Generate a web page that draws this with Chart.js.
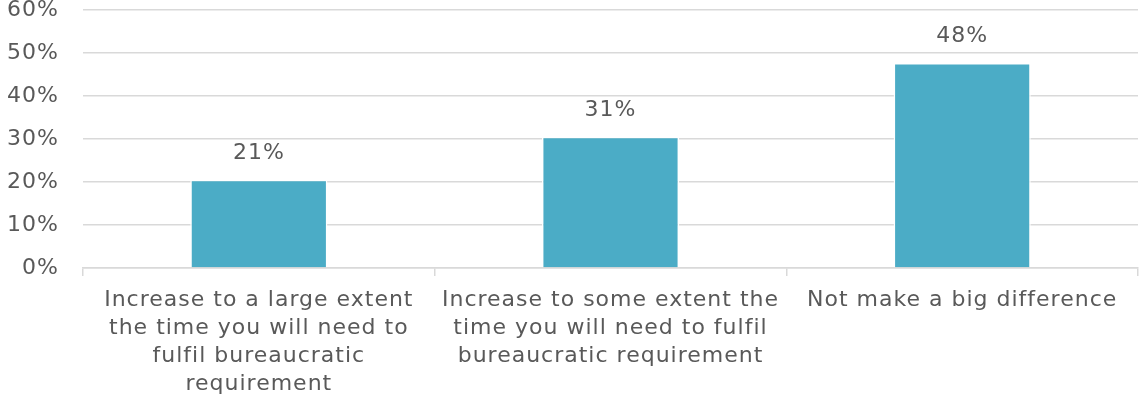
<!DOCTYPE html>
<html>
<head>
<meta charset="utf-8">
<script src="https://cdn.jsdelivr.net/npm/chart.js@4.4.1/dist/chart.umd.min.js"></script>
<style>
  body { margin: 0; background: #fff; }
  #wrap { width: 1139px; height: 401px; }
</style>
</head>
<body>
<div id="wrap"><canvas id="bar-chart"></canvas></div>
<script>
const categories = [
  ["Increase to a large extent", "the time you will need to", "fulfil bureaucratic", "requirement"],
  ["Increase to some extent the", "time you will need to fulfil", "bureaucratic requirement"],
  ["Not make a big difference"]
];
const shares = [20.5, 30.5, 47.7];
const yTicks = [0, 10, 20, 30, 40, 50, 60];

const GREY = "#595959";
const FONT = "'DejaVu Sans', Verdana, sans-serif";

// DejaVu is a bit narrower than the Verdana in the picture
const spacing = {
  id: "spacing",
  beforeLayout(chart) { chart.ctx.letterSpacing = "1px"; },
  beforeDraw(chart) { chart.ctx.letterSpacing = "1px"; }
};

// labels above each bar
const valueLabels = {
  id: "valueLabels",
  afterDatasetsDraw(chart) {
    const ctx = chart.ctx;
    const meta = chart.getDatasetMeta(0);
    ctx.save();
    ctx.font = "22px " + FONT;
    ctx.fillStyle = GREY;
    ctx.textAlign = "center";
    ctx.textBaseline = "middle";
    meta.data.forEach(function (bar, i) {
      ctx.fillText(Math.round(shares[i]) + "%", bar.x, bar.y - 27);
    });
    ctx.restore();
  }
};

new Chart(document.getElementById("bar-chart"), {
  type: "bar",
  data: {
    labels: categories,
    datasets: [{
      data: shares,
      backgroundColor: "#4bacc6",
      borderColor: "#ffffff",
      borderWidth: 1.5,
      categoryPercentage: 0.39,
      barPercentage: 1
    }]
  },
  options: {
    responsive: true,
    maintainAspectRatio: false,
    animation: false,
    layout: { padding: { top: 0, right: 1, left: 0, bottom: 0 } },
    plugins: {
      legend: { display: false },
      tooltip: { enabled: false }
    },
    scales: {
      x: {
        afterFit: function (axis) {
          axis.paddingLeft = 0;
          axis.paddingRight = 0;
          axis.height = 133;
        },
        grid: {
          offset: true,
          drawOnChartArea: false,
          drawTicks: true,
          tickLength: 8,
          color: "#d9d9d9",
          lineWidth: 1.5
        },
        border: { display: true, color: "#d9d9d9", width: 1.5 },
        ticks: {
          color: GREY,
          font: { family: FONT, size: 22, lineHeight: 1.28 },
          maxRotation: 0,
          autoSkip: false,
          padding: 10
        }
      },
      y: {
        min: 0,
        max: 60,
        afterBuildTicks: function (axis) {
          axis.ticks = yTicks.map(function (v) { return { value: v }; });
        },
        afterFit: function (axis) {
          axis.paddingTop = 10;
          axis.paddingBottom = 0;
          axis.width = 83;
        },
        grid: { color: "#d9d9d9", lineWidth: 1.5, drawTicks: false },
        border: { display: false },
        ticks: {
          color: GREY,
          font: { family: FONT, size: 22 },
          padding: 24,
          callback: function (v) { return v + "%"; }
        }
      }
    }
  },
  plugins: [spacing, valueLabels]
});
</script>
</body>
</html>
